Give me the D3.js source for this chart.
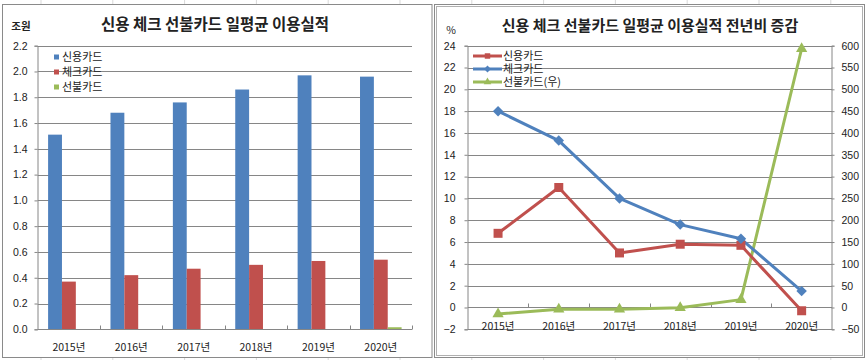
<!DOCTYPE html>
<html><head><meta charset="utf-8">
<script src="https://cdn.jsdelivr.net/npm/d3@7"></script>
<style>
html,body{margin:0;padding:0;background:#fff;}
svg{display:block;font-family:"Noto Sans CJK KR","Noto Sans",sans-serif;}
</style></head>
<body>
<svg id="c" width="867" height="360"></svg>
<script>
// ---------- data ----------
const years = ["2015년","2016년","2017년","2018년","2019년","2020년"];
const seriesNames = ["신용카드","체크카드","선불카드"];
const creditAmt  = [1.51,1.68,1.76,1.86,1.97,1.96];
const checkAmt   = [0.37,0.42,0.47,0.50,0.53,0.54];
const prepaidAmt = [0.002,0.002,0.002,0.002,0.0023,0.016];
const creditYoY  = [6.8,11.0,5.0,5.8,5.7,-0.3];
const checkYoY   = [18.0,15.3,10.0,7.6,6.3,1.5];
const prepaidYoY = [-15,-4,-4,-0.5,18,593];
const leftTicks  = [0,0.2,0.4,0.6,0.8,1.0,1.2,1.4,1.6,1.8,2.0,2.2];
const pctTicks   = [-2,0,2,4,6,8,10,12,14,16,18,20,22,24];
const rightTicks = [-50,0,50,100,150,200,250,300,350,400,450,500,550,600];
const legendRight = ["신용카드","체크카드","선불카드(우)"];

const colors = ["#4F81BD","#C0504D","#9BBB59"];
const lineColors = {credit:"#C0504D", check:"#4F81BD", prepaid:"#9BBB59"};
const grid = "#868686";
const svg = d3.select("#c");

// ---------- excel cell grid background strips ----------
const cellX = d3.range(41, 867, 71.8);
svg.selectAll("line.cell").data(cellX).join("line")
  .attr("x1",d=>d).attr("x2",d=>d).attr("y1",0).attr("y2",360)
  .attr("stroke","#d9d9d9").attr("stroke-width",1);
// panels
svg.append("rect").attr("x",2.5).attr("y",4.5).attr("width",429.5).attr("height",353)
  .attr("fill","#fff").attr("stroke","#8a8a8a");
svg.append("rect").attr("x",434.5).attr("y",4.5).attr("width",430).attr("height",353)
  .attr("fill","#fff").attr("stroke","#8a8a8a");
svg.append("rect").attr("x",436.5).attr("y",6.5).attr("width",426).attr("height",349)
  .attr("fill","none").attr("stroke","#b0b0b0");

// ---------- left chart ----------
const L = svg.append("g");
const xL = d3.scaleBand().domain(years).range([37.7,412]).paddingInner(0).paddingOuter(0);
const xSub = d3.scaleBand().domain(seriesNames).range([0,xL.bandwidth()]).paddingInner(0).paddingOuter(0.75);
const yL = d3.scaleLinear().domain([0,2.2]).range([329.3,45.7]);

L.selectAll("line.g").data(leftTicks.filter(d=>d>0)).join("line")
  .attr("x1",37.7).attr("x2",412).attr("y1",d=>Math.round(yL(d))+0.5).attr("y2",d=>Math.round(yL(d))+0.5)
  .attr("stroke",grid);
const yAxL = d3.axisLeft(yL).tickValues(leftTicks).tickFormat(d3.format(".1f")).tickSize(3).tickPadding(7);
const gyL = L.append("g").attr("transform","translate(37.5,0)").call(yAxL);
gyL.select(".domain").attr("stroke",grid);
gyL.selectAll(".tick line").attr("stroke",grid);
gyL.selectAll("text").attr("font-size",10.5).attr("fill","#222");

const seriesAmt = [creditAmt, checkAmt, prepaidAmt];
seriesAmt.forEach((arr,si)=>{
  L.append("g").selectAll("rect").data(arr).join("rect")
    .attr("x",(d,i)=>xL(years[i])+xSub(seriesNames[si]))
    .attr("width",xSub.bandwidth())
    .attr("y",d=>yL(d)).attr("height",d=>yL(0)-yL(d))
    .attr("fill",colors[si]);
});
// x axis
L.append("line").attr("x1",37.7).attr("x2",412).attr("y1",329.5).attr("y2",329.5).attr("stroke",grid);
const bounds = years.map((d,i)=>xL(d)).slice(1).concat([412]);
L.selectAll("line.xt").data(bounds).join("line")
  .attr("x1",d=>Math.round(d)+0.5).attr("x2",d=>Math.round(d)+0.5).attr("y1",325.5).attr("y2",329.5).attr("stroke",grid);
L.selectAll("text.xl").data(years).join("text")
  .attr("x",d=>xL(d)+xL.bandwidth()/2).attr("y",351).attr("text-anchor","middle")
  .attr("font-size",10.5).attr("fill","#222").text(d=>d);
// titles
L.append("text").attr("x",215).attr("y",30).attr("text-anchor","middle")
  .attr("font-size",15.5).attr("font-weight","bold").attr("fill","#222").text("신용 체크 선불카드 일평균 이용실적");
L.append("text").attr("x",21).attr("y",30).attr("text-anchor","middle")
  .attr("font-size",10.5).attr("font-weight","bold").attr("fill","#222").text("조원");
// legend
const lgL = L.append("g");
seriesNames.forEach((n,i)=>{
  const cy = 57 + i*15;
  lgL.append("rect").attr("x",54).attr("y",cy-2.5).attr("width",5).attr("height",5).attr("fill",colors[i]);
  lgL.append("text").attr("x",62).attr("y",cy+4).attr("font-size",11).attr("fill","#222").text(n);
});

// ---------- right chart ----------
const R = svg.append("g");
const xR = d3.scaleBand().domain(years).range([467.7,832]).paddingInner(0).paddingOuter(0);
const yP = d3.scaleLinear().domain([-2,24]).range([329.3,45.7]);
const yR = d3.scaleLinear().domain([-50,600]).range([329.3,45.7]);

R.selectAll("line.g").data(pctTicks).join("line")
  .attr("x1",467.7).attr("x2",832).attr("y1",d=>Math.round(yP(d))+0.5).attr("y2",d=>Math.round(yP(d))+0.5)
  .attr("stroke",grid);
const gyP = R.append("g").attr("transform","translate(467.5,0)")
  .call(d3.axisLeft(yP).tickValues(pctTicks).tickFormat(d3.format("d")).tickSize(3).tickPadding(9));
gyP.select(".domain").attr("stroke",grid);
gyP.selectAll(".tick line").attr("stroke",grid);
gyP.selectAll("text").attr("font-size",10.5).attr("fill","#222");
const gyR = R.append("g").attr("transform","translate(831.5,0)")
  .call(d3.axisRight(yR).tickValues(rightTicks).tickFormat(d3.format("d")).tickSize(3).tickPadding(7));
gyR.select(".domain").attr("stroke",grid);
gyR.selectAll(".tick line").attr("stroke",grid);
gyR.selectAll("text").attr("font-size",10.5).attr("fill","#222");

// x axis at 0
const y0 = Math.round(yP(0))+0.5;
const boundsR = years.map(d=>xR(d)).slice(1);
R.selectAll("line.xt").data(boundsR).join("line")
  .attr("x1",d=>Math.round(d)+0.5).attr("x2",d=>Math.round(d)+0.5).attr("y1",y0-4).attr("y2",y0).attr("stroke",grid);
R.selectAll("text.xl").data(years).join("text")
  .attr("x",d=>xR(d)+xR.bandwidth()/2).attr("y",330).attr("text-anchor","middle")
  .attr("font-size",10.5).attr("fill","#222").text(d=>d);

const cx = (d,i)=>xR(years[i])+xR.bandwidth()/2;
function drawLine(data, yScale, color){
  R.append("path").datum(data)
    .attr("d",d3.line().x(cx).y(d=>yScale(d)))
    .attr("fill","none").attr("stroke",color).attr("stroke-width",3).attr("stroke-linejoin","round");
}
drawLine(prepaidYoY, yR, lineColors.prepaid);
drawLine(creditYoY, yP, lineColors.credit);
drawLine(checkYoY, yP, lineColors.check);

const sq = d3.symbol().type(d3.symbolSquare).size(81);
const dia = d3.symbol().type(d3.symbolDiamond2).size(70);
const tri = d3.symbol().type(d3.symbolTriangle).size(55);
R.selectAll("path.m1").data(prepaidYoY).join("path")
  .attr("transform",(d,i)=>`translate(${cx(d,i)},${yR(d)})`).attr("d",tri).attr("fill",lineColors.prepaid);
R.selectAll("path.m2").data(creditYoY).join("path")
  .attr("transform",(d,i)=>`translate(${cx(d,i)},${yP(d)})`).attr("d",sq).attr("fill",lineColors.credit);
R.selectAll("path.m3").data(checkYoY).join("path")
  .attr("transform",(d,i)=>`translate(${cx(d,i)},${yP(d)})`).attr("d",dia).attr("fill",lineColors.check);

// titles
R.append("text").attr("x",650).attr("y",31).attr("text-anchor","middle")
  .attr("font-size",15).attr("font-weight","bold").attr("fill","#222").text("신용 체크 선불카드 일평균 이용실적 전년비 증감");
R.append("text").attr("x",451).attr("y",34).attr("text-anchor","middle")
  .attr("font-size",10.5).attr("fill","#222").text("%");
// legend
const lgCols = [lineColors.credit, lineColors.check, lineColors.prepaid];
const lgSym = [d3.symbol().type(d3.symbolSquare).size(30), d3.symbol().type(d3.symbolDiamond2).size(30), d3.symbol().type(d3.symbolTriangle).size(25)];
legendRight.forEach((n,i)=>{
  const cy = 56 + i*13;
  R.append("line").attr("x1",473).attr("x2",502).attr("y1",cy).attr("y2",cy).attr("stroke",lgCols[i]).attr("stroke-width",3);
  R.append("path").attr("transform",`translate(487.5,${cy})`).attr("d",lgSym[i]).attr("fill",lgCols[i]);
  R.append("text").attr("x",503).attr("y",cy+4).attr("font-size",11).attr("fill","#222").text(n);
});
</script>
</body></html>
